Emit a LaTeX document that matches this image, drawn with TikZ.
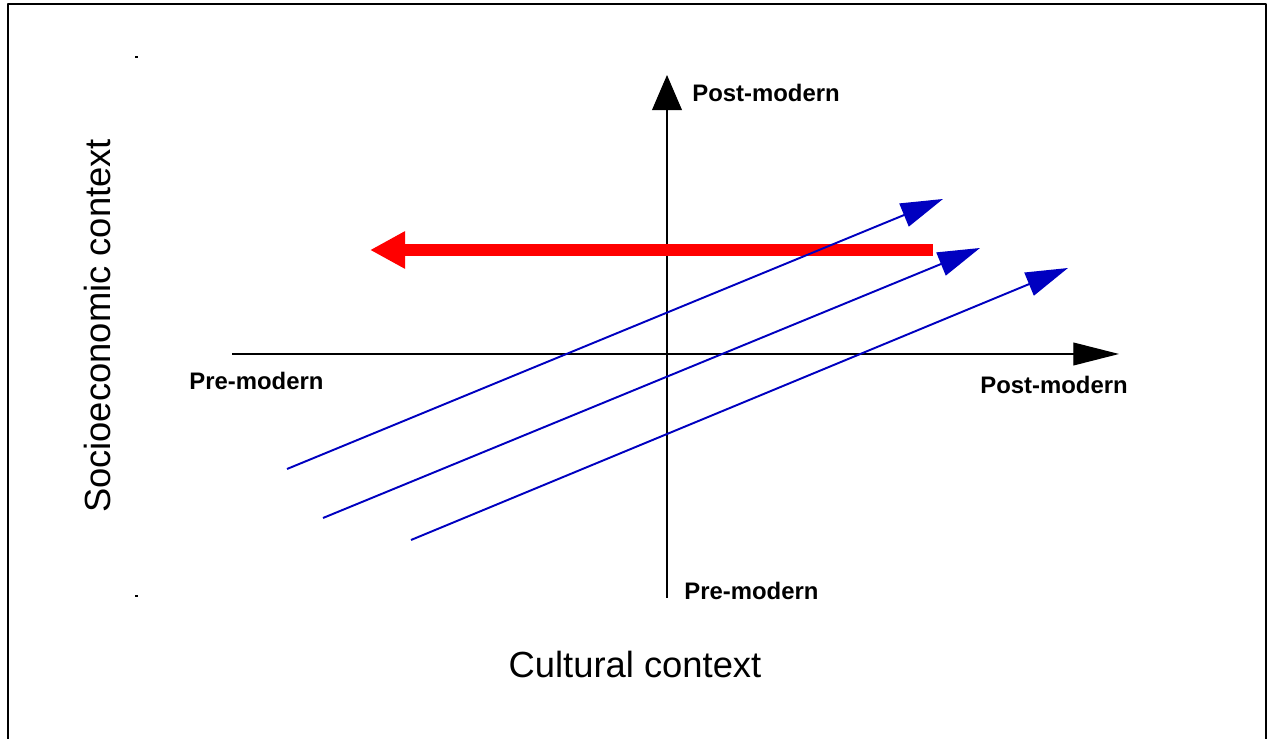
\documentclass[tikz,border=0pt]{standalone}
\usepackage{fontspec}
\setmainfont{Liberation Sans}
\usetikzlibrary{arrows.meta}
\definecolor{shiftblue}{HTML}{0000C0}
\definecolor{retreatred}{HTML}{FF0000}
\tikzset{
  every picture/.style={
    line join=round,
  },
  axislabel/.style={font=\bfseries\fontsize{13.6}{16}\selectfont, inner sep=0pt, anchor=west},
  titlelabel/.style={font=\fontsize{20.7}{24}\selectfont, inner sep=0pt},
  axisline/.style={black, line width=0.7pt},
  shiftline/.style={shiftblue, line width=1.1pt, -{Triangle[length=24pt,width=14pt]}},
  retreatline/.style={retreatred, line width=6.8pt, -{Triangle[length=20pt,width=20pt]}},
}

\begin{document}
\begin{tikzpicture}[x=0.02cm,y=-0.02cm]
\useasboundingbox (0,0) rectangle (1269,739);
% frame, open at the bottom
\draw[line width=0.9pt] (8,739) -- (8,4) -- (1266,4) -- (1266,739);
\draw[line width=0.6pt] (135,57) -- (138,57) (135,596) -- (138,596);
% axes
\coordinate (xlo) at (232,354);
\coordinate (xhi) at (1119,354);
\coordinate (ylo) at (667,598);
\coordinate (yhi) at (667,75);
\draw[axisline,-{Triangle[length=26pt,width=13pt]}] (xlo) -- (xhi);
\draw[axisline,-{Triangle[length=20pt,width=17pt]}] (ylo) -- (yhi);
\node[axislabel] (ytop) at (692,93) {Post-modern};
\node[axislabel] (ybot) at (684,591) {Pre-modern};
\node[axislabel] (xleft) at (189,381) {Pre-modern};
\node[axislabel] (xright) at (980,385) {Post-modern};
\node[titlelabel] (xtitle) at (635,665) {Cultural context};
\node[titlelabel,rotate=90] (ytitle) at (97,326) {Socioeconomic context};
% the backward move
\coordinate (retreatstart) at (933,250);
\coordinate (retreatend) at (370,250);
\draw[retreatline] (retreatstart) -- (retreatend);
% the three forward moves
\foreach \i/\sx/\sy/\ex/\ey in {1/287/469/943/199, 2/323/518/980/248, 3/411/540/1068/268}{
  \coordinate (shiftstart\i) at (\sx,\sy);
  \coordinate (shiftend\i) at (\ex,\ey);
  \draw[shiftline] (shiftstart\i) -- (shiftend\i);
}
\end{tikzpicture}
\end{document}
